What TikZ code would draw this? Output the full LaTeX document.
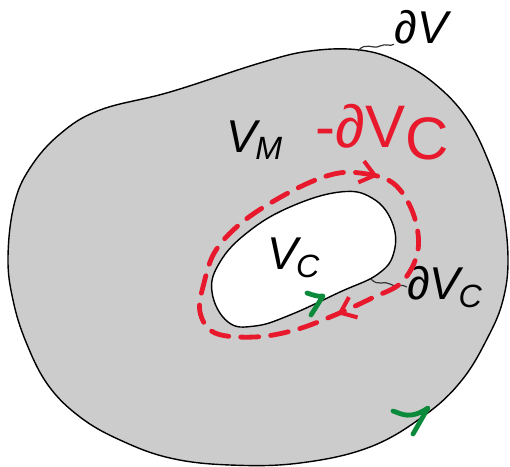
\documentclass[tikz,border=0pt]{standalone}
\usepackage{fontspec}
\setsansfont{Liberation Sans}
\usepackage{xcolor}
\definecolor{RegionGray}{HTML}{CCCCCC}
\definecolor{InkRed}{HTML}{E8192C}
\definecolor{InkGreen}{HTML}{0C8A3C}
\usepackage{tikz}
\usetikzlibrary{arrows.meta,decorations.markings}

\begin{document}
\begin{tikzpicture}[
  x=0.5pt, y=-0.5pt,
  font=\sffamily\itshape,
  region/.style={draw=black, line width=0.7pt, fill=RegionGray},
  hole/.style={draw=black, line width=0.7pt, fill=white},
  lbl/.style={inner sep=0pt, font=\sffamily\itshape\fontsize{23}{26}\selectfont},
  tilde/.style={draw=black!80, line width=0.6pt},
  redloop/.style={draw=InkRed, line width=2.4pt, line cap=round,
                  dash pattern=on 9pt off 6pt},
  greenmark/.style={draw=InkGreen, line width=2.4pt, line cap=round, line join=round}
]
  \useasboundingbox (0,0) rectangle (510,467);

  % outer region V_M with boundary dV
  \draw[region] plot[smooth cycle, tension=0.65] coordinates {
    (8,258) (14,205) (30,168) (60,134) (100,110) (170,92) (260,63)
    (310,51) (360,50) (400,62) (435,84) (466,117) (488,160) (502,205)
    (508,258) (503,300) (488,337) (462,380) (425,415) (370,447)
    (300,463) (230,465) (170,458) (120,440) (80,417) (48,385)
    (26,342) (13,300)};

  % cavity V_C
  \draw[hole] plot[smooth cycle, tension=0.7] coordinates {
    (212,292) (220,262) (248,232) (290,207) (340,192) (372,198)
    (392,222) (394,252) (378,274) (340,292) (290,315) (255,326)
    (228,322)};

  % labels
  \node[lbl] (dV) at (421,27) {∂V};
  \node[lbl] (VM) at (255,140) {V\textsubscript{\kern-1pt M}};
  \node[lbl] (VC) at (294,258) {V\textsubscript{\kern-1pt C}};
  \node[lbl] (dVC) at (445,287) {∂V\textsubscript{\kern-1pt C}};

  \coordinate (dVfoot) at (358,51);
  \coordinate (dVCfoot) at (371,279);
  \draw[tilde] (dVfoot) .. controls (366,41) and (372,50) .. (380,46)
    .. controls (386,43) and (390,47) .. (dV.south west);
  \draw[tilde] (dVCfoot) .. controls (378,287) and (384,280) .. (390,284)
    .. controls (395,288) and (400,283) .. (dVC.west);

  % handwritten -dV_C and its loop
  \node[text=InkRed, inner sep=0pt, font=\sffamily\fontsize{30}{32}\selectfont]
    (mdVC) at (382,132) {-∂V\raisebox{-0.2em}{C}};

  \draw[redloop, postaction={decorate}, decoration={markings,
      mark=at position 0.03 with {\arrow[InkRed, solid]{Straight Barb[length=7pt, width=11pt, line width=2pt]}},
      mark=at position 0.36 with {\arrow[InkRed, solid]{Straight Barb[length=7pt, width=11pt, line width=2pt]}}}]
    plot[smooth cycle, tension=0.6] coordinates {
    (330,175) (360,173) (393,183) (413,213) (418,250) (402,282)
    (372,298) (335,315) (295,330) (255,337) (215,333) (200,312)
    (204,283) (216,250) (245,220) (290,192)};

  % green orientation marks
  \draw[greenmark] (307,293) .. controls (313,295) and (318,297) .. (323,296)
    -- (311,315);
  \draw[greenmark] (393,411) .. controls (402,414) and (410,420) .. (428,408)
    -- (413,434);
\end{tikzpicture}
\end{document}
